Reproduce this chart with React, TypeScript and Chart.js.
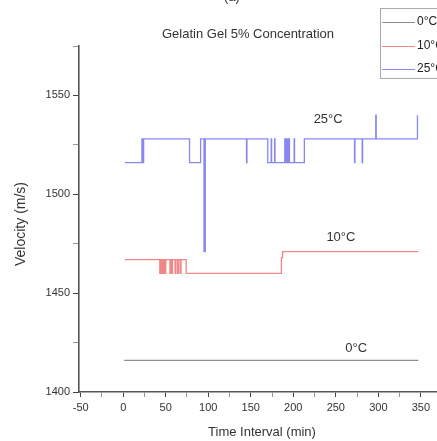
import React, { useEffect, useRef } from "react";
import { Chart, registerables } from "chart.js";
Chart.register(...registerables);

// ---- data (time in min, velocity in m/s); each value starts at its time (step) ----
const time0 = [1, 347];
const vel0 = [1416, 1416];

const time10 = [2, 43, 44, 45, 46, 47, 48, 49, 50, 55, 56, 57, 58, 61, 62, 64, 65, 67, 68, 74, 186, 187.5, 347];
const vel10 = [1467, 1460, 1467, 1460, 1467, 1460, 1467, 1460, 1467, 1460, 1467, 1460, 1467, 1460, 1467, 1460, 1467, 1460, 1467, 1460, 1468, 1471, 1471];

const time25 = [2, 22, 22.5, 23, 23.5, 24, 78, 91, 95, 96.5, 145, 145.5, 170, 174, 174.5, 178, 178.5, 190, 190.5, 191.5, 192, 193, 193.5, 195, 195.5, 201, 201.5, 213, 272, 272.5, 281, 281.5, 297, 297.5, 346];
const vel25 = [1516, 1528, 1516, 1528, 1516, 1528, 1516, 1528, 1471, 1528, 1516, 1528, 1516, 1528, 1516, 1528, 1516, 1528, 1516, 1528, 1516, 1528, 1516, 1528, 1516, 1528, 1516, 1528, 1516, 1528, 1516, 1528, 1540, 1528, 1540];

const seriesNames = ["0°C", "10°C", "25°C"];
const seriesColors = ["#8e8e8e", "#f08888", "#8888f0"];

// axes
const xMin = -52;
const xMax = 369;
const xTicks = [-50, -25, 0, 25, 50, 75, 100, 125, 150, 175, 200, 225, 250, 275, 300, 325, 350];
const yMin = 1400;
const yMax = 1575;
const yTicks = [1400, 1425, 1450, 1475, 1500, 1525, 1550, 1575];
const labelEvery = 50;

const chartTitle = "Gelatin Gel 5% Concentration";
const panelLabel = "(a)";
const xTitle = "Time Interval (min)";
const yTitle = "Velocity (m/s)";

// in-plot labels at data coordinates
const noteText = ["25°C", "10°C", "0°C"];
const noteX = [241, 256, 274];
const noteY = [1538, 1478, 1422];

const FONT = "Arial, 'Liberation Sans', sans-serif";
const TEXT = "#333";

function toPoints(t: number[], v: number[]) {
  return t.map((x, i) => ({ x, y: v[i] }));
}

export default function App() {
  const ref = useRef<HTMLCanvasElement | null>(null);

  useEffect(() => {
    if (!ref.current) return;
    const decor = {
      id: "decor",
      afterDraw(chart: any) {
        const ctx = chart.ctx;
        const xs = chart.scales.x;
        const ys = chart.scales.y;
        ctx.save();
        ctx.fillStyle = TEXT;
        ctx.textAlign = "center";
        ctx.textBaseline = "middle";
        ctx.font = `13px ${FONT}`;
        ctx.fillText(chartTitle, 248, 34);
        ctx.textBaseline = "bottom";
        ctx.fillText(panelLabel, 232, 4);
        // axis titles
        ctx.textBaseline = "middle";
        ctx.fillText(xTitle, 262, 432);
        ctx.save();
        ctx.translate(21.5, 224);
        ctx.rotate(-Math.PI / 2);
        ctx.font = `14px ${FONT}`;
        ctx.fillText(yTitle, 0, 0);
        ctx.restore();
        // in-plot labels
        ctx.font = `13px ${FONT}`;
        noteText.forEach((s, i) => {
          ctx.fillText(s, xs.getPixelForValue(noteX[i]), ys.getPixelForValue(noteY[i]));
        });
        // legend
        ctx.strokeStyle = "#aaa";
        ctx.lineWidth = 1;
        ctx.strokeRect(380.5, 8.5, 80, 70);
        ctx.textAlign = "left";
        ctx.font = `12px ${FONT}`;
        seriesNames.forEach((n, i) => {
          const y = 22 + i * 23.5;
          ctx.strokeStyle = seriesColors[i];
          ctx.beginPath();
          ctx.moveTo(382, Math.round(y) + 0.5);
          ctx.lineTo(415, Math.round(y) + 0.5);
          ctx.stroke();
          ctx.fillStyle = "#222";
          ctx.fillText(n, 417, y);
        });
        ctx.restore();
      },
    };

    const setTicks = (vals: number[]) => (s: any) => {
      s.ticks = vals.map((value) => ({ value }));
    };
    const tickColor = (c: any) => (c.tick && c.tick.value % labelEvery === 0 ? "#444" : "#999");
    const tickLabel = (v: any) => (Number(v) % labelEvery === 0 ? String(v) : "");

    const chart = new Chart(ref.current, {
      type: "line",
      data: {
        datasets: [
          { label: seriesNames[0], data: toPoints(time0, vel0) },
          { label: seriesNames[1], data: toPoints(time10, vel10) },
          { label: seriesNames[2], data: toPoints(time25, vel25) },
        ].map((d, i) => ({
          ...d,
          borderColor: seriesColors[i],
          backgroundColor: seriesColors[i],
          borderWidth: 1.3,
          pointRadius: 0,
          stepped: "before" as const,
          fill: false,
        })),
      },
      options: {
        animation: false,
        responsive: false,
        events: [],
        layout: { padding: { top: 46, right: 0, bottom: 0, left: 0 } },
        plugins: { legend: { display: false }, tooltip: { enabled: false }, title: { display: false } },
        scales: {
          x: {
            type: "linear",
            min: xMin,
            max: xMax,
            afterBuildTicks: setTicks(xTicks),
            afterFit: (s: any) => {
              s.height = 49;
            },
            ticks: {
              autoSkip: false,
              maxRotation: 0,
              padding: 4,
              color: TEXT,
              font: { family: FONT, size: 11 },
              callback: tickLabel,
            },
            grid: { drawOnChartArea: false, tickLength: 5, tickColor },
            border: { color: "#555", width: 1.6 },
            title: { display: false },
          },
          y: {
            type: "linear",
            min: yMin,
            max: yMax,
            afterBuildTicks: setTicks(yTicks),
            afterFit: (s: any) => {
              s.width = 79;
            },
            ticks: {
              autoSkip: false,
              padding: 3,
              color: TEXT,
              font: { family: FONT, size: 11 },
              callback: tickLabel,
            },
            grid: { drawOnChartArea: false, tickLength: 6, tickColor },
            border: { color: "#555", width: 1.6 },
            title: { display: false },
          },
        },
      },
      plugins: [decor],
    });
    return () => chart.destroy();
  }, []);

  return (
    <div style={{ position: "fixed", left: 0, top: 0, width: 437, height: 441, background: "#fff", overflow: "hidden" }}>
      <canvas ref={ref} width={437} height={441} />
    </div>
  );
}
